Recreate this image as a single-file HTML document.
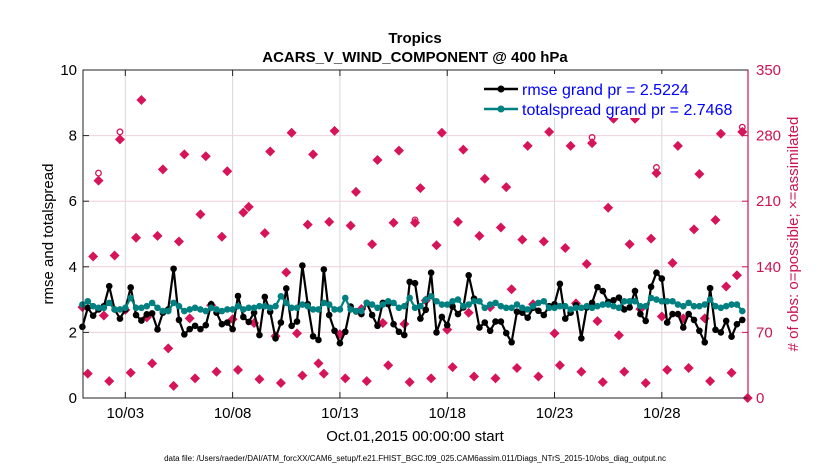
<!DOCTYPE html>
<html><head><meta charset="utf-8"><style>
body{margin:0;background:#fff;}
svg{display:block;font-family:"Liberation Sans",sans-serif;}
</style></head><body>
<svg id="chart" width="830" height="470" viewBox="0 0 830 470">
<text x="415" y="43" text-anchor="middle" font-size="15" font-weight="bold">Tropics</text>
<text x="415" y="62" text-anchor="middle" font-size="15" font-weight="bold">ACARS_V_WIND_COMPONENT @ 400 hPa</text>
<g id="grid"></g>
<g id="ticks"></g>
<g id="marks"></g>
<rect x="83" y="70" width="665" height="328" fill="none" stroke="#222" stroke-width="1"/>
<line x1="748" y1="70" x2="748" y2="398" stroke="#cc1450" stroke-width="1.2"/>
<text transform="translate(53,234) rotate(-90)" text-anchor="middle" font-size="15">rmse and totalspread</text>
<text transform="translate(798,234) rotate(-90)" text-anchor="middle" font-size="15" fill="#cc1450"># of obs: o=possible; ×=assimilated</text>
<text x="415" y="441" text-anchor="middle" font-size="15">Oct.01,2015 00:00:00 start</text>
<text x="415" y="461" text-anchor="middle" font-size="8">data file: /Users/raeder/DAI/ATM_forcXX/CAM6_setup/f.e21.FHIST_BGC.f09_025.CAM6assim.011/Diags_NTrS_2015-10/obs_diag_output.nc</text>
<g>
<rect x="472" y="74" width="272" height="44" fill="#fff"/>
<line x1="484" y1="89" x2="518" y2="89" stroke="#000" stroke-width="2.5"/>
<circle cx="501" cy="89" r="3.5" fill="#000"/>
<text x="522" y="95" font-size="16" fill="#0000ff">rmse grand pr = 2.5224</text>
<line x1="484" y1="109" x2="518" y2="109" stroke="#008080" stroke-width="2.5"/>
<circle cx="501" cy="109" r="3.5" fill="#008080"/>
<text x="522" y="115" font-size="16" fill="#0000ff">totalspread grand pr = 2.7468</text>
</g>
</svg>
<script>
const dateTicks=[2,7,12,17,22,27];
const dateLabels=["10/03","10/08","10/13","10/18","10/23","10/28"];
const leftTicks=[0,2,4,6,8,10];
const rightTicks=[0,70,140,210,280,350];
const rmse=[2.17,2.75,2.51,2.7,2.8,3.41,2.7,2.42,2.7,3.37,2.53,2.36,2.55,2.58,2.09,2.6,2.7,3.94,2.38,1.94,2.1,2.2,2.1,2.22,2.86,2.6,2.25,2.3,2.1,3.11,2.47,2.32,2.6,1.92,3.08,2.63,1.82,2.3,3.34,2.2,2.33,4.04,2.86,1.88,1.77,3.92,2.53,2.05,1.67,2.02,2.79,2.64,2.56,2.9,2.53,2.2,2.9,2.86,2.25,2.02,1.92,3.54,3.5,2.42,2.69,3.82,2.0,2.47,2.22,2.79,2.56,2.76,3.74,3.03,2.15,2.3,2.05,2.33,2.33,1.98,1.7,2.63,2.6,2.45,2.75,2.66,2.53,2.8,2.86,3.48,2.42,2.6,2.83,1.82,2.76,2.9,3.38,3.26,2.93,2.98,3.06,2.7,2.76,3.26,2.56,2.35,3.39,3.82,3.64,2.3,2.56,2.56,2.15,2.56,2.38,2.05,1.7,3.35,2.08,2.0,2.35,1.87,2.25,2.38];
const spread=[2.85,2.95,2.8,2.75,2.75,2.9,2.7,2.7,2.75,3.05,2.75,2.75,2.8,2.9,2.75,2.65,2.65,2.9,2.8,2.65,2.7,2.75,2.7,2.65,2.75,2.7,2.65,2.7,2.7,2.8,2.7,2.75,2.75,2.8,2.8,2.75,2.8,3.1,2.9,2.75,2.75,2.85,2.8,2.7,2.7,2.9,2.85,2.7,2.7,3.05,2.7,2.65,2.65,2.9,2.85,2.75,2.85,2.95,2.9,2.75,2.8,3.05,2.75,2.8,3.0,3.1,2.95,2.85,2.85,2.95,3.0,2.8,2.85,2.95,2.95,2.75,2.85,2.9,2.8,2.75,2.75,2.85,2.75,2.7,2.8,2.9,2.95,2.75,2.75,2.8,2.8,2.7,2.75,2.75,2.8,2.75,2.8,2.85,2.85,2.8,2.75,2.95,2.95,2.95,2.8,2.8,3.05,3.0,2.95,2.95,2.95,2.85,2.8,2.9,2.8,2.8,2.85,3.0,2.8,2.75,2.8,2.85,2.85,2.65];
const obsCount=[97,26,151,232,88,18,152,276,94,27,171,318,86,37,173,244,53,13,167,260,85,21,196,258,99,28,172,242,84,30,198,204,80,20,176,263,66,16,134,283,69,24,185,260,37,26,188,285,68,21,184,220,95,18,164,254,80,35,187,264,79,17,187,224,104,21,163,283,73,33,188,265,91,23,173,234,97,21,182,225,116,32,169,269,100,23,167,284,69,35,160,269,101,28,143,272,82,17,203,298,67,28,164,298,95,16,170,240,87,30,144,269,85,32,180,239,85,18,190,282,119,27,131,284,0];
const possibleExtra=[[3,240],[7,284],[62,190],[95,278],[103,303],[107,246],[123,289]];

const X0=82.4,PX_DAY=21.46,YB=398,YT=70;
const xOf=i=>X0+(i/4)*PX_DAY;
const xDay=d=>X0+d*PX_DAY;
const yL=v=>YB-(v/10)*(YB-YT);
const yR=v=>YB-(v/350)*(YB-YT);
const NS="http://www.w3.org/2000/svg";
function mk(tag,attrs,parent){const e=document.createElementNS(NS,tag);for(const k in attrs)e.setAttribute(k,attrs[k]);parent.appendChild(e);return e;}
const grid=document.getElementById('grid'),ticks=document.getElementById('ticks'),marks=document.getElementById('marks');

dateTicks.forEach((d,k)=>{
 const gl=mk('line',{x1:xDay(d),x2:xDay(d),y1:YT,y2:YB,stroke:'#d8d8d8','stroke-width':1},grid);
 
 
 const t1=mk('line',{x1:xDay(d),x2:xDay(d),y1:YB,y2:YB-6,stroke:'#222'},ticks);
 
 
 const t2=mk('line',{x1:xDay(d),x2:xDay(d),y1:YT,y2:YT+6,stroke:'#222'},ticks);
 
 
 const tl=mk('text',{x:xDay(d),y:418,'text-anchor':'middle','font-size':15},ticks);
 tl.textContent=dateLabels[k];
 
 
});
rightTicks.forEach(v=>{
 if(v>0&&v<350){const gl=mk('line',{x1:83,x2:748,y1:yR(v),y2:yR(v),stroke:'#f0d0dc','stroke-width':1},grid);
 
 }
 const t=mk('line',{x1:748,x2:742,y1:yR(v),y2:yR(v),stroke:'#cc1450'},ticks);
 
 
 const tl=mk('text',{x:756,y:yR(v)+5,'font-size':15,fill:'#cc1450'},ticks);
 tl.textContent=v;
 
 
});
leftTicks.forEach(v=>{
 const t=mk('line',{x1:83,x2:89,y1:yL(v),y2:yL(v),stroke:'#222'},ticks);
 
 
 const tl=mk('text',{x:77,y:yL(v)+5,'text-anchor':'end','font-size':15},ticks);
 tl.textContent=v;
 
 
});

// obs markers
const red='#d6145a';
possibleExtra.forEach(p=>{
 const c=mk('circle',{cx:xOf(p[0]),cy:yR(p[1]),r:2.8,fill:'none',stroke:red,'stroke-width':1.3},marks);
 
 
});
obsCount.forEach((v,i)=>{
 const x=xOf(i),y=yR(v);
 const p=mk('path',{d:`M${x} ${y-5}L${x+5} ${y}L${x} ${y+5}L${x-5} ${y}Z`,fill:red},marks);
 
 
});

function series(arr,color,name){
 const pts=arr.map((v,i)=>xOf(i).toFixed(1)+','+yL(v).toFixed(1)).join(' ');
 const pl=mk('polyline',{points:pts,fill:'none',stroke:color,'stroke-width':2.2},marks);
 
 
 arr.forEach((v,i)=>{
  const c=mk('circle',{cx:xOf(i),cy:yL(v),r:3.3,fill:color},marks);
  
  
 });
}
series(rmse,'#000','rmse');
series(spread,'#008080','totalspread');
</script>
</body></html>
